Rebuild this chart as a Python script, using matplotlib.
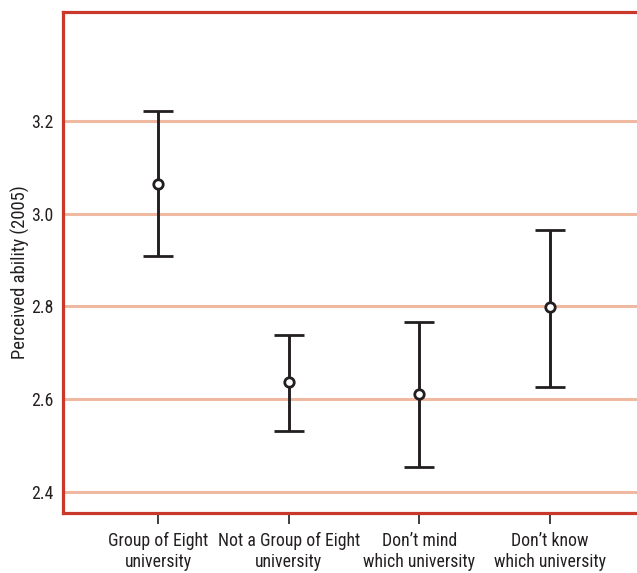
import numpy as np
import matplotlib.pyplot as plt
from matplotlib import font_manager as fm

# Data
categories = ['Group of Eight\nuniversity', 'Not a Group of Eight\nuniversity',
              "Don\u2019t mind\nwhich university", "Don\u2019t know\nwhich university"]
means = [3.064, 2.637, 2.611, 2.799]
upper = [3.222, 2.739, 2.767, 2.965]
lower = [2.909, 2.532, 2.454, 2.626]
yticks = [2.4, 2.6, 2.8, 3.0, 3.2]

# pick a narrow font if one is installed
family = 'Roboto'
condensed = False
for name in ['Liberation Sans Narrow', 'Roboto Condensed', 'Open Sans Condensed']:
    try:
        fm.findfont(fm.FontProperties(family=name), fallback_to_default=False)
        family = name
        condensed = True
        break
    except ValueError:
        pass
plt.rcParams['font.family'] = [family, 'DejaVu Sans']
fs = 12.8 if condensed else 11.5

fig = plt.figure(figsize=(6.37, 5.73), dpi=100)
ax = fig.add_axes([0.099, 0.105, 0.901, 0.874])

x = np.arange(len(categories))
means = np.array(means)
yerr = [means - np.array(lower), np.array(upper) - means]

# Horizontal grid lines
for y in yticks:
    ax.axhline(y, color='#efb9a1', lw=2.2, zorder=1)

ax.errorbar(x, means, yerr=yerr, fmt='o', color='#231f20', ecolor='#231f20',
            elinewidth=2.1, capsize=11, capthick=2.1, markersize=6.8,
            markerfacecolor='white', markeredgewidth=2.0, zorder=3)

ax.set_xlim(-0.727, 3.666)
ax.set_ylim(2.355, 3.435)
ax.set_xticks(x)
ax.set_xticklabels(categories, fontsize=fs, color='#231f20', linespacing=1.2)
ax.set_yticks(yticks)
ax.set_yticklabels([f'{v:.1f}' for v in yticks], fontsize=fs, color='#231f20')
ax.tick_params(axis='y', length=0, pad=7)
ax.tick_params(axis='x', length=8, width=1.2, color='#231f20', pad=6)
ax.set_ylabel('Perceived ability (2005)', fontsize=fs + 0.6, color='#231f20')
ax.yaxis.set_label_coords(-0.058, 0.48)

for side in ['left', 'top', 'bottom']:
    ax.spines[side].set_color('#c8392b')
    ax.spines[side].set_linewidth(2.3)
ax.spines['right'].set_visible(False)

fig.savefig('out.png', dpi=100)
